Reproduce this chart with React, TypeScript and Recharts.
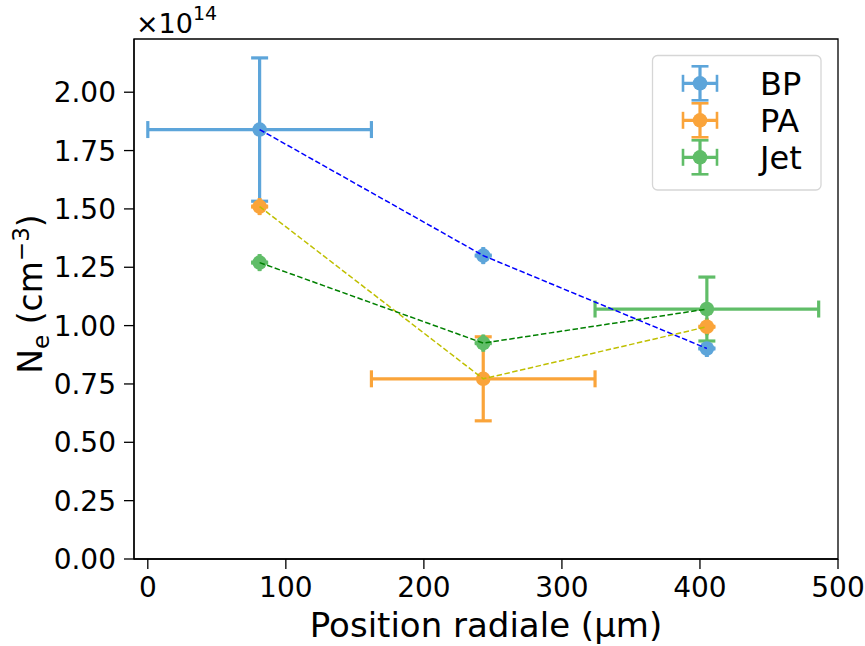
import React from 'react';
import {
  ComposedChart,
  Scatter,
  XAxis,
  YAxis,
  ErrorBar,
  ReferenceArea,
  Customized,
} from 'recharts';

// ---- data ----
const positions = [81, 243, 405];

const bpValues = [1.84, 1.3, 0.902];
const bpYErr = [0.307, 0.002, 0.002];
const bpXErr = [81, 0.3, 0.3];

const paValues = [1.51, 0.772, 0.995];
const paYErr = [0.002, 0.18, 0.002];
const paXErr = [0.3, 81, 0.3];

const jetValues = [1.27, 0.925, 1.071];
const jetYErr = [0.002, 0.002, 0.137];
const jetXErr = [0.3, 0.3, 81];

const xTicks = [0, 100, 200, 300, 400, 500];
const yTicks = [0, 0.25, 0.5, 0.75, 1.0, 1.25, 1.5, 1.75, 2.0];
const xDomain: [number, number] = [-10, 500];
const yDomain: [number, number] = [0, 2.228];

const seriesNames = ['BP', 'PA', 'Jet'];
const markerColors = ['#5DA5DA', '#FAA43A', '#60BD68'];
const lineColors = ['#0000ff', '#bfbf00', '#008000'];

const build = (vals: number[], yerr: number[], xerr: number[]) =>
  positions.map((x, i) => ({ x, y: vals[i], ye: yerr[i], xe: xerr[i] }));

const seriesData = [
  build(bpValues, bpYErr, bpXErr),
  build(paValues, paYErr, paXErr),
  build(jetValues, jetYErr, jetXErr),
];

const FONT = '"DejaVu Sans", sans-serif';
const R = 7.3;

const makeDot = (color: string) => (props: any) => {
  if (props.cx == null || props.cy == null) return <g />;
  return <circle cx={props.cx} cy={props.cy} r={R} fill={color} />;
};

const noDot = () => <g />;

const Overlay = () => {
  const legendRows = seriesNames.map((name, i) => {
    const cy = 83.3 + i * 37;
    const cx = 700;
    const c = markerColors[i];
    return (
      <g key={name}>
        <line x1={cx - 17} y1={cy} x2={cx + 17} y2={cy} stroke={c} strokeWidth={3.2} />
        <line x1={cx} y1={cy - 17} x2={cx} y2={cy + 17} stroke={c} strokeWidth={3.2} />
        <line x1={cx - 17} y1={cy - 8.5} x2={cx - 17} y2={cy + 8.5} stroke={c} strokeWidth={2.6} />
        <line x1={cx + 17} y1={cy - 8.5} x2={cx + 17} y2={cy + 8.5} stroke={c} strokeWidth={2.6} />
        <line x1={cx - 8.5} y1={cy - 17} x2={cx + 8.5} y2={cy - 17} stroke={c} strokeWidth={2.6} />
        <line x1={cx - 8.5} y1={cy + 17} x2={cx + 8.5} y2={cy + 17} stroke={c} strokeWidth={2.6} />
        <circle cx={cx} cy={cy} r={R} fill={c} />
        <text x={760} y={cy + 11.5} fontSize={32} fontFamily={FONT} fill="#000">
          {name}
        </text>
      </g>
    );
  });
  return (
    <g>
      <text x={136} y={32.5} fontSize={27} fontFamily={FONT} fill="#000">
        ×10<tspan fontSize={19} dy={-13}>14</tspan>
      </text>
      <text
        transform="rotate(-90)"
        x={-294}
        y={41.7}
        textAnchor="middle"
        fontSize={33}
        fontFamily={FONT}
        fill="#000"
      >
        N<tspan fontSize={23} dy={7}>e</tspan>
        <tspan dy={-7}> (cm</tspan>
        <tspan fontSize={23} dy={-13}>−3</tspan>
        <tspan dy={13}>)</tspan>
      </text>
      <text x={486} y={637} textAnchor="middle" fontSize={34} fontFamily={FONT} fill="#000">
        Position radiale (µm)
      </text>
      <rect x={652.5} y={55.5} width={168.5} height={134.5} rx={5} ry={5} fill="#ffffff" fillOpacity={0.8} stroke="#d6d6d6" strokeWidth={1.3} />
      {legendRows}
    </g>
  );
};

export default function App() {
  return (
    <div style={{ position: 'absolute', left: 0, top: 0 }}>
      <ComposedChart
        width={865}
        height={646}
        margin={{ top: 39, right: 27, bottom: 37, left: 34 }}
        style={{ fontFamily: FONT }}
      >
        <XAxis
          type="number"
          dataKey="x"
          domain={xDomain}
          ticks={xTicks}
          allowDataOverflow
          height={50}
          stroke="#000"
          strokeWidth={1.3}
          tickSize={10}
          tickMargin={8}
          tick={{ fill: '#000', fontSize: 28, fontFamily: FONT }}
          tickLine={{ stroke: '#000', strokeWidth: 1.3 }}
        />
        <YAxis
          type="number"
          dataKey="y"
          domain={yDomain}
          ticks={yTicks}
          allowDataOverflow
          width={100}
          stroke="#000"
          strokeWidth={1.3}
          tickSize={10}
          tickMargin={8}
          tickFormatter={(v: number) => v.toFixed(2)}
          tick={{ fill: '#000', fontSize: 28, fontFamily: FONT }}
          tickLine={{ stroke: '#000', strokeWidth: 1.3 }}
        />
        <ReferenceArea
          x1={xDomain[0]}
          x2={xDomain[1]}
          y1={yDomain[0]}
          y2={yDomain[1]}
          fill="none"
          fillOpacity={0}
          stroke="#000"
          strokeWidth={1.3}
        />
        {seriesData.map((d, i) => (
          <Scatter
            key={'pts' + i}
            name={seriesNames[i]}
            data={d}
            fill={markerColors[i]}
            shape={makeDot(markerColors[i])}
            isAnimationActive={false}
          >
            <ErrorBar dataKey="xe" direction="x" width={8.5} stroke={markerColors[i]} strokeWidth={3.2} isAnimationActive={false} />
            <ErrorBar dataKey="ye" direction="y" width={8.5} stroke={markerColors[i]} strokeWidth={3.2} isAnimationActive={false} />
          </Scatter>
        ))}
        {seriesData.map((d, i) => (
          <Scatter
            key={'line' + i}
            data={d}
            fill={lineColors[i]}
            shape={noDot}
            line={{ stroke: lineColors[i], strokeWidth: 1.5, strokeDasharray: '5.5 2.5' }}
            lineType="joint"
            isAnimationActive={false}
          />
        ))}
        <Customized component={<Overlay />} />
      </ComposedChart>
    </div>
  );
}
